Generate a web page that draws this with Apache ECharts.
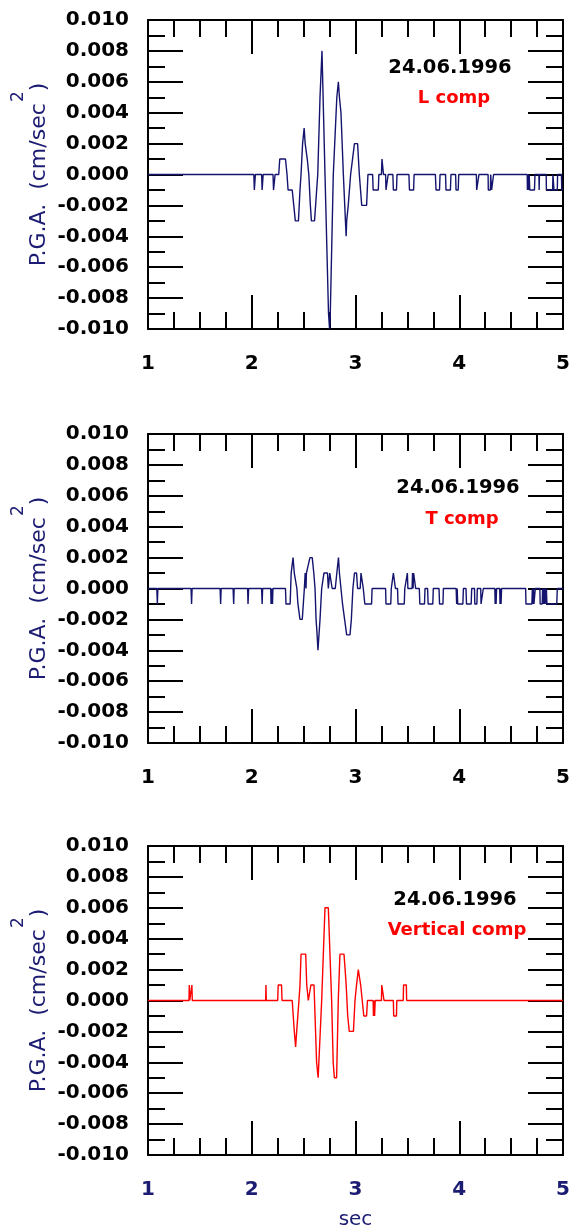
<!DOCTYPE html>
<html><head><meta charset="utf-8">
<script src="https://cdn.jsdelivr.net/npm/echarts@6/dist/echarts.min.js"></script>
<style>html,body{margin:0;padding:0;background:#fff}#c{width:570px;height:1228px}</style>
</head><body><div id="c"></div><script>
// Polyline vertices [time (sec), P.G.A. (cm/sec^2)]
const seriesL = [
[1.0,0],
[2.02,0],[2.025,-0.001],[2.03,-0.001],[2.035,0],
[2.095,0],[2.10,-0.001],[2.105,-0.001],[2.11,0],
[2.205,0],[2.21,-0.001],[2.22,-0.001],[2.225,0],
[2.26,0],[2.27,0.001],[2.325,0.001],[2.34,0],[2.35,-0.001],[2.39,-0.001],[2.405,-0.002],[2.42,-0.003],[2.45,-0.003],
[2.465,-0.001],[2.475,0],[2.49,0.002],[2.505,0.003],[2.515,0.002],[2.525,0.002],[2.535,0.001],[2.55,0],[2.565,-0.002],
[2.575,-0.003],[2.605,-0.003],[2.636,0],[2.658,0.005],[2.677,0.008],[2.706,0],[2.74,-0.009],[2.75,-0.010],[2.757,-0.009],
[2.786,0],[2.82,0.005],[2.835,0.006],[2.845,0.005],[2.86,0.004],[2.883,0],[2.903,-0.003],[2.91,-0.004],[2.915,-0.003],
[2.93,-0.002],[2.953,0],[2.99,0.002],[3.02,0.002],[3.037,0],[3.06,-0.002],[3.107,-0.002],[3.12,0],
[3.165,0],[3.17,-0.001],[3.22,-0.001],[3.225,0],[3.25,0],[3.255,0.001],[3.265,0.001],[3.27,0],
[3.29,0],[3.294,-0.001],[3.31,-0.001],[3.315,0],[3.36,0],[3.365,-0.001],[3.395,-0.001],[3.40,0],
[3.515,0],[3.52,-0.001],[3.56,-0.001],[3.565,0],[3.77,0],[3.776,-0.001],[3.81,-0.001],[3.815,0],
[3.868,0],[3.872,-0.001],[3.915,-0.001],[3.92,0],[3.965,0],[3.969,-0.001],[3.99,-0.001],[3.995,0],
[4.165,0],[4.168,-0.001],[4.186,-0.001],[4.19,0],[4.278,0],[4.28,-0.001],[4.30,-0.001],[4.303,0],
[4.31,0],[4.312,-0.001],[4.328,-0.001],[4.331,0],
[4.655,0],[4.657,-0.001],[4.66,0],[4.664,-0.001],[4.667,0],[4.671,-0.001],[4.674,0],[4.68,-0.001],[4.725,-0.001],[4.73,0],
[4.768,0],[4.77,-0.001],[4.773,0],[4.838,0],[4.84,-0.001],[4.90,-0.001],[4.903,0],[4.91,0],[4.913,-0.001],[4.945,-0.001],
[4.948,0],[4.985,0],[4.988,-0.001],[5.0,-0.001]
];
const seriesT = [
[1.0,0],[1.085,0],[1.09,-0.001],[1.095,0],[1.415,0],[1.42,-0.001],[1.425,0],[1.695,0],[1.70,-0.001],[1.705,0],
[1.82,0],[1.826,-0.001],[1.83,0],[1.96,0],[1.964,-0.001],[1.97,0],[2.095,0],[2.10,-0.001],[2.105,0],
[2.183,0],[2.186,-0.001],[2.19,0],[2.197,0],[2.20,-0.001],[2.204,0],
[2.325,0],[2.33,-0.001],[2.37,-0.001],[2.38,0.001],[2.398,0.002],[2.41,0.001],[2.423,0.001],[2.435,0],[2.445,-0.001],
[2.465,-0.002],[2.487,-0.002],[2.507,0],[2.515,0.001],[2.52,0.001],[2.523,0],[2.527,0.001],[2.545,0.001],[2.561,0.002],
[2.583,0.002],[2.598,0.001],[2.61,0],[2.62,-0.002],[2.63,-0.003],[2.638,-0.004],[2.645,-0.004],[2.658,-0.002],[2.674,0],
[2.696,0.001],[2.73,0.001],[2.738,0],[2.748,0],[2.752,0.001],[2.765,0.001],[2.775,0],[2.805,0],[2.82,0.001],
[2.836,0.002],[2.845,0.001],[2.86,0],[2.875,-0.001],[2.895,-0.002],[2.915,-0.003],[2.947,-0.003],[2.96,-0.002],
[2.975,0],[2.99,0.001],[3.01,0.001],[3.02,0],[3.045,0],[3.053,0.001],[3.068,0.001],[3.075,0],
[3.085,0],[3.09,-0.001],[3.155,-0.001],[3.16,0],
[3.29,0],[3.294,-0.001],[3.34,-0.001],[3.345,0],[3.36,0],[3.365,0.001],[3.38,0.001],[3.385,0],
[3.405,0],[3.41,-0.001],[3.47,-0.001],[3.475,0],[3.488,0],[3.50,0.001],[3.505,0],
[3.545,0],[3.55,0.001],[3.555,0],[3.56,0.001],[3.575,0.001],[3.58,0],
[3.615,0],[3.62,-0.001],[3.665,-0.001],[3.67,0],[3.695,0],[3.70,-0.001],[3.745,-0.001],[3.75,0],
[3.805,0],[3.81,-0.001],[3.843,-0.001],[3.847,0],[3.97,0],[3.975,-0.001],[3.98,0],[3.985,-0.001],[4.035,-0.001],[4.04,0],
[4.065,0],[4.07,-0.001],[4.115,-0.001],[4.12,0],[4.147,0],[4.15,-0.001],[4.17,-0.001],[4.174,0],
[4.207,0],[4.21,-0.001],[4.228,-0.001],[4.232,0],[4.343,0],[4.346,-0.001],[4.35,0],[4.355,-0.001],[4.36,0],
[4.39,0],[4.393,-0.001],[4.397,0],[4.403,-0.001],[4.408,0],
[4.64,0],[4.643,-0.001],[4.70,-0.001],[4.705,0],[4.71,-0.001],[4.715,0],[4.72,-0.001],[4.73,-0.001],[4.733,0],
[4.777,0],[4.78,-0.001],[4.80,-0.001],[4.803,0],[4.81,-0.001],[4.815,0],[4.82,-0.001],[4.83,0],[4.835,-0.001],[4.84,0],
[4.845,-0.001],[4.94,-0.001],[4.945,0],[5.0,0]
];
const seriesV = [
[1.0,0],[1.395,0],[1.398,0.001],[1.402,0],[1.42,0],[1.423,0.001],[1.427,0],[2.134,0],[2.137,0.001],[2.14,0],
[2.25,0],[2.255,0.001],[2.287,0.001],[2.292,0],[2.39,0],[2.40,-0.001],[2.41,-0.002],[2.423,-0.003],[2.433,-0.002],
[2.44,-0.002],[2.455,0],[2.465,0.001],[2.475,0.003],[2.52,0.003],[2.53,0.001],[2.545,0],[2.56,0],[2.57,0.001],
[2.60,0.001],[2.625,-0.004],[2.64,-0.005],[2.655,-0.005],[2.674,0],[2.706,0.006],[2.738,0.006],[2.77,0],
[2.785,-0.004],[2.796,-0.005],[2.818,-0.005],[2.834,0],[2.85,0.003],[2.889,0.003],[2.90,0.002],[2.91,0.001],
[2.925,-0.001],[2.94,-0.002],[2.98,-0.002],[2.995,0],[3.01,0.001],[3.027,0.002],[3.043,0.002],[3.05,0.001],
[3.065,0],[3.08,-0.001],[3.107,-0.001],[3.115,0],[3.17,0],[3.173,-0.001],[3.177,0],[3.184,-0.001],[3.19,0],
[3.25,0],[3.253,0.001],[3.272,0.001],[3.275,0],[3.365,0],[3.368,-0.001],[3.395,-0.001],[3.398,0],
[3.46,0],[3.463,0.001],[3.49,0.001],[3.493,0],[5.0,0]
];
const panelSeries = [seriesL, seriesT, seriesV];
const panelColors = ['#14146e', '#14146e', '#ff0000'];
const compLabels = ['L comp', 'T comp', 'Vertical comp'];
const dateLabel = '24.06.1996';
const yTitleMain = 'P.G.A.  (cm/sec';
const yTitleSup = '2';
const yTitleEnd = ')';
const xRange = [1, 5], xStep = 1, xMinorSplit = 4;
const yRange = [-0.01, 0.01], yStep = 0.002, yMinorSplit = 2;
const xTitle = 'sec';

const navy = '#1c1c72';
const gridTops = [20, 434, 846];
const gridH = 309;
const annot = [
  {date:[450, 68], comp:[454, 98]},
  {date:[458, 488], comp:[462, 519]},
  {date:[455, 900], comp:[457, 930]}
];
const grids = [], xAxes = [], yAxes = [], series = [], graphic = [];
const tickLine = {color:'#000', width:2};
gridTops.forEach((top, i) => {
  grids.push({left:148, top:top, width:415, height:gridH, outerBoundsMode:'none', containLabel:false});
  const xBase = {gridIndex:i, type:'value', min:xRange[0], max:xRange[1], interval:xStep,
    axisLine:{show:true, onZero:false, lineStyle:tickLine},
    axisTick:{show:true, inside:true, length:34, lineStyle:tickLine},
    minorTick:{show:true, splitNumber:xMinorSplit, length:17, lineStyle:tickLine},
    splitLine:{show:false}, minorSplitLine:{show:false}};
  xAxes.push(Object.assign({}, xBase, {position:'bottom',
    axisLabel:{show:true, margin:25, fontSize:20, fontWeight:'bold', fontFamily:'DejaVu Sans',
      color: i === 2 ? navy : '#000', showMinLabel:true, showMaxLabel:true},
    name: i === 2 ? xTitle : '', nameLocation:'middle', nameGap:55, nameMoveOverlap:false,
    nameTextStyle:{fontSize:20, fontFamily:'DejaVu Sans', color:navy}}));
  xAxes.push(Object.assign({}, xBase, {position:'top', axisLabel:{show:false}}));
  const yBase = {gridIndex:i, type:'value', min:yRange[0], max:yRange[1], interval:yStep,
    axisLine:{show:true, onZero:false, lineStyle:tickLine},
    axisTick:{show:true, inside:true, length:35, lineStyle:tickLine},
    minorTick:{show:true, splitNumber:yMinorSplit, length:17, lineStyle:tickLine},
    splitLine:{show:false}, minorSplitLine:{show:false}};
  yAxes.push(Object.assign({}, yBase, {position:'left',
    axisLabel:{show:true, margin:19, fontSize:20, fontWeight:'bold', fontFamily:'DejaVu Sans', color:'#000',
      showMinLabel:true, showMaxLabel:true,
      formatter: v => (Math.abs(v) < 1e-9 ? 0 : v).toFixed(3)},
    name:'{a|' + yTitleMain + '}{g|}{a|' + yTitleEnd + '}', nameLocation:'middle', nameRotate:90, nameGap:96,
    nameMoveOverlap:false,
    nameTextStyle:{rich:{
      a:{fontSize:22, fontFamily:'DejaVu Sans', color:navy, lineHeight:26},
      g:{width:12, fontSize:22, lineHeight:26}
    }}}));
  yAxes.push(Object.assign({}, yBase, {position:'right', axisLabel:{show:false}}));
  series.push({type:'line', xAxisIndex:2*i, yAxisIndex:2*i, data:panelSeries[i], showSymbol:false,
    symbol:'none', lineStyle:{color:panelColors[i], width:1.4}, clip:true, z:5, animation:false});
  graphic.push({type:'text', x:19, y:top + gridH / 2 - 78, rotation:Math.PI / 2,
    style:{text:yTitleSup, fill:navy, font:'17px "DejaVu Sans"', textAlign:'center', textVerticalAlign:'middle'}});
  graphic.push({type:'text', x:annot[i].date[0], y:annot[i].date[1],
    style:{text:dateLabel, fill:'#000', font:'bold 19.5px "DejaVu Sans"', textAlign:'center', textVerticalAlign:'middle'}});
  graphic.push({type:'text', x:annot[i].comp[0], y:annot[i].comp[1],
    style:{text:compLabels[i], fill:'#ff0000', font:'bold 18px "DejaVu Sans"', textAlign:'center', textVerticalAlign:'middle'}});
});
const chart = echarts.init(document.getElementById('c'), null, {renderer:'canvas'});
chart.setOption({animation:false, backgroundColor:'#fff', grid:grids, xAxis:xAxes, yAxis:yAxes, series:series, graphic:graphic});
</script></body></html>
